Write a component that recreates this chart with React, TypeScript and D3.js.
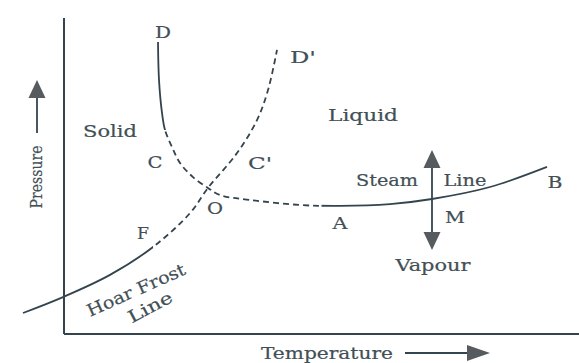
import React from "react";
import * as d3 from "d3";

// Phase diagram data (abstract units: temperature 0..100, pressure 0..100)
// Hoar frost line E–F–O continuing as the dashed curve O–C'–D'
const frostCurve: [number, number][] = [
  [-8.2, 7], [-0.2, 12.3], [9.2, 19.7], [17.8, 29], [25.2, 40.3], [28.8, 48.7],
  [34.6, 60.3], [38.6, 71.3], [40.8, 81.3], [42.6, 94.7],
];
const frostSolidUntilX = 17.8;
// Curve D–C–O–A–B (ice line continuing into steam line)
const steamCurve: [number, number][] = [
  [18.8, 97.3], [19, 84.7], [19.6, 73.7], [20.2, 68], [21.6, 62.3], [23.2, 57],
  [25.8, 52.3], [28.8, 48.7], [31.2, 46.3], [37.2, 44.7], [47.2, 43], [55.2, 42.7],
  [65.2, 43.3], [73.6, 45], [85.2, 49], [96.6, 55.7],
];
const meltSolidAboveY = 68;
const steamSolidFromX = 51.5;

const arrowX = 73.6;
const arrowTop = 61.3;
const arrowBottom = 28;

const labelText = ["D", "D'", "Solid", "Liquid", "C", "C'", "O", "F", "A", "M", "Steam", "Line", "B", "Vapour"];
const labelX = [19.8, 47.8, 9.2, 59.8, 18.2, 39.2, 30.2, 15.8, 55.2, 78.2, 64.6, 80.2, 98.2, 73.8];
const labelY = [100.7, 92.3, 67.7, 73, 57.3, 57, 42, 33.7, 37, 39, 51.3, 51.3, 50.7, 23];
const labelW = [16, 26, 54, 70, 15, 24, 16, 12, 15, 20, 62, 43, 15, 75];

const rotText = ["Hoar Frost", "Line"];
const rotX = [14.4, 17.2];
const rotY = [14.7, 9];
const rotW = [106, 48];
const rotA = [-24, -28];

const W = 579;
const H = 363;
const x = d3.scaleLinear().domain([0, 100]).range([64, 564]);
const y = d3.scaleLinear().domain([0, 100]).range([334, 34]);

const LINE = "#34444e";
const TEXT = "#424f56";
const FONT = "'DejaVu Serif', serif";

const line = d3
  .line<[number, number]>()
  .x((d) => x(d[0]))
  .y((d) => y(d[1]))
  .curve(d3.curveCatmullRom.alpha(0.5));

function tri(cx: number, tipY: number, dir: number, w = 17, h = 18) {
  const baseY = tipY - dir * h;
  return `M${cx},${tipY}L${cx - w / 2},${baseY}L${cx + w / 2},${baseY}Z`;
}

export default function App() {
  const ax = x(arrowX);
  const at = y(arrowTop);
  const ab = y(arrowBottom);
  const fx = x(frostSolidUntilX);
  const my = y(meltSolidAboveY);
  const sx = x(steamSolidFromX);
  const frostD = line(frostCurve) || "";
  const steamD = line(steamCurve) || "";
  const textProps = {
    textAnchor: "middle" as const,
    dominantBaseline: "central" as const,
    fontFamily: FONT,
    fill: TEXT,
    stroke: TEXT,
    strokeWidth: 0.2,
    lengthAdjust: "spacingAndGlyphs" as const,
  };
  return (
    <svg width={W} height={H} style={{ position: "absolute", left: 0, top: 0, background: "#fff" }}>
      <defs>
        <clipPath id="frostSolid">
          <rect x={0} y={0} width={fx} height={H} />
        </clipPath>
        <clipPath id="frostDash">
          <rect x={fx} y={0} width={W - fx} height={H} />
        </clipPath>
        <clipPath id="steamSolid">
          <rect x={0} y={0} width={sx} height={my} />
          <rect x={sx} y={0} width={W - sx} height={H} />
        </clipPath>
        <clipPath id="steamDash">
          <rect x={0} y={my} width={sx} height={H - my} />
        </clipPath>
      </defs>
      <rect width={W} height={H} fill="#fff" />
      {/* axes */}
      <line x1={64} y1={18} x2={64} y2={334} stroke={LINE} strokeWidth={2} />
      <line x1={64} y1={334} x2={579} y2={334} stroke={LINE} strokeWidth={2} />

      {/* curves */}
      <path d={frostD} fill="none" stroke={LINE} strokeWidth={1.8} clipPath="url(#frostSolid)" />
      <path d={frostD} fill="none" stroke={LINE} strokeWidth={1.8} strokeDasharray="6,4" clipPath="url(#frostDash)" />
      <path d={steamD} fill="none" stroke={LINE} strokeWidth={1.8} clipPath="url(#steamSolid)" />
      <path d={steamD} fill="none" stroke={LINE} strokeWidth={1.8} strokeDasharray="6,4" clipPath="url(#steamDash)" />

      {/* vertical double arrow */}
      <line x1={ax} y1={at + 12} x2={ax} y2={ab - 12} stroke={LINE} strokeWidth={1.8} />
      <path d={tri(ax, at, -1)} fill="#555b5e" />
      <path d={tri(ax, ab, 1)} fill="#555b5e" />

      {/* labels */}
      {labelText.map((t, i) => (
        <text key={i} x={x(labelX[i])} y={y(labelY[i])} fontSize={17} textLength={labelW[i]} {...textProps}>
          {t}
        </text>
      ))}
      {rotText.map((t, i) => (
        <text
          key={"r" + i}
          transform={`translate(${x(rotX[i])},${y(rotY[i])}) rotate(${rotA[i]})`}
          fontSize={17}
          textLength={rotW[i]}
          {...textProps}
        >
          {t}
        </text>
      ))}

      {/* axis titles */}
      <text transform="translate(36,177) rotate(-90)" fontSize={16} textLength={63} {...textProps}>
        Pressure
      </text>
      <line x1={37} y1={133} x2={37} y2={95} stroke={LINE} strokeWidth={1.8} />
      <path d={tri(37, 80, -1, 17, 18)} fill="#555b5e" />

      <text x={327} y={353} fontSize={17} textLength={132} {...textProps}>
        Temperature
      </text>
      <line x1={405} y1={353} x2={472} y2={353} stroke={LINE} strokeWidth={1.8} />
      <path d="M490,353L467,345L467,361Z" fill="#555b5e" />
    </svg>
  );
}
